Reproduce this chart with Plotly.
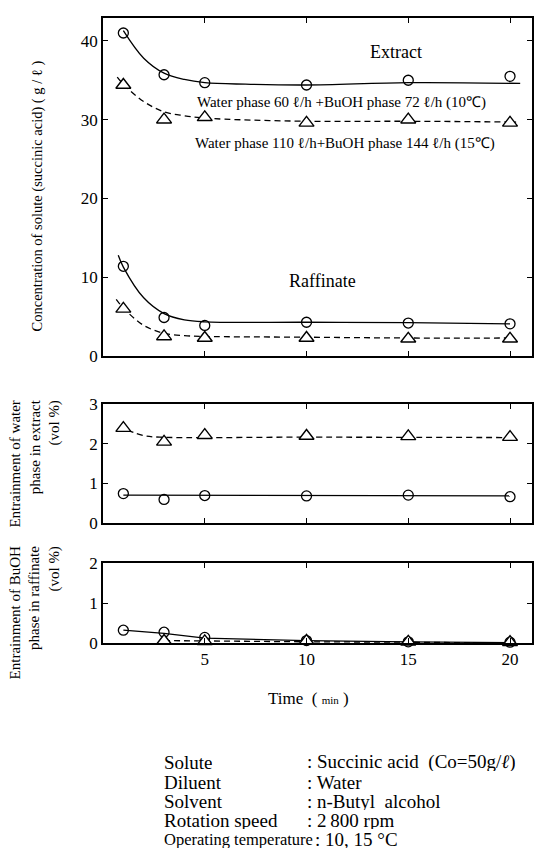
import plotly.graph_objects as go

# ---------------- data ----------------
time = [1, 3, 5, 10, 15, 20]

ext_10C = [41.0, 35.7, 34.7, 34.4, 35.0, 35.5]
ext_15C = [34.4, 30.0, 30.3, 29.6, 30.0, 29.6]
raf_10C = [11.4, 4.9, 3.9, 4.3, 4.2, 4.1]
raf_15C = [6.0, 2.5, 2.3, 2.3, 2.2, 2.2]

# fitted curves
ext_10C_curve_t = [1.0, 2, 3, 4, 5, 7, 10, 15, 20.5]
ext_10C_curve_v = [41.3, 37.8, 35.9, 35.1, 34.7, 34.5, 34.4, 34.7, 34.6]
ext_15C_curve_t = [0.7, 1, 2, 3, 4, 5, 10, 15, 20.3]
ext_15C_curve_v = [35.4, 34.5, 32.3, 31.0, 30.5, 30.2, 29.8, 29.8, 29.7]
raf_10C_curve_t = [0.75, 1, 2, 3, 4, 5, 10, 15, 20]
raf_10C_curve_v = [12.8, 11.3, 7.4, 5.4, 4.6, 4.35, 4.3, 4.25, 4.1]
raf_15C_curve_t = [0.65, 1, 2, 3, 4, 5, 10, 15, 20]
raf_15C_curve_v = [7.2, 6.1, 3.9, 2.9, 2.6, 2.5, 2.4, 2.3, 2.3]

water_10C = [0.74, 0.59, 0.69, 0.68, 0.70, 0.66]
water_15C = [2.40, 2.05, 2.22, 2.20, 2.19, 2.17]
water_10C_line_t = [1, 20]
water_10C_line_v = [0.70, 0.68]
water_15C_line_t = [1.2, 2, 2.8, 10, 20]
water_15C_line_v = [2.35, 2.21, 2.17, 2.17, 2.16]

buoh_10C = [0.32, 0.27, 0.14, 0.06, 0.03, 0.02]
buoh_15C_t = [3, 5, 10, 15, 20]
buoh_15C = [0.05, 0.04, 0.05, 0.03, 0.02]
buoh_10C_line_v = [0.32, 0.24, 0.12, 0.06, 0.03, 0.01]
buoh_15C_line_v = [0.06, 0.05, 0.03, 0.02, 0.0]

x_ticks = [5, 10, 15, 20]
y1_ticks = [0, 10, 20, 30, 40]
y2_ticks = [0, 1, 2, 3]
y3_ticks = [0, 1, 2]

cond_labels = ["Solute", "Diluent", "Solvent", "Rotation speed", "Operating temperature"]
cond_values = [": Succinic acid\u00a0\u00a0(Co=50g/<i>ℓ</i>)", ": Water", ": n-Butyl\u00a0 alcohol",
               ": 2\u2009800 rpm", ": 10, 15 °C"]

# ---------------- figure ----------------
W, H = 557, 853
ML, MT = 103, 9
MR = W - 532
MB = H - 643
PW = W - ML - MR
PH = H - MT - MB
FONT = "Liberation Serif"


def px(xp):
    return (xp - ML) / PW


def py(yp):
    return (H - MB - yp) / PH


fig = go.Figure()

LW = 1.3
solid = dict(color="black", width=LW)
dashed = dict(color="black", width=LW, dash="6px,4px")
circle = dict(symbol="circle-open", size=10, color="black", line=dict(width=1.3))
tri = dict(symbol="triangle-up", size=13, color="white", line=dict(width=1.4, color="black"))


def add_line(t, v, line, ya, shape="linear"):
    fig.add_trace(go.Scatter(x=t, y=v, mode="lines", line=dict(**line, shape=shape),
                             xaxis="x" if ya == "y" else "x" + ya[1:], yaxis=ya,
                             showlegend=False, hoverinfo="skip", cliponaxis=False))


def add_marks(t, v, marker, ya):
    fig.add_trace(go.Scatter(x=t, y=v, mode="markers", marker=marker,
                             xaxis="x" if ya == "y" else "x" + ya[1:], yaxis=ya,
                             showlegend=False, cliponaxis=False))


# top panel
add_line(ext_10C_curve_t, ext_10C_curve_v, solid, "y", "spline")
add_line(ext_15C_curve_t, ext_15C_curve_v, dashed, "y", "spline")
add_line(raf_10C_curve_t, raf_10C_curve_v, solid, "y", "spline")
add_line(raf_15C_curve_t, raf_15C_curve_v, dashed, "y", "spline")
add_marks(time, ext_10C, circle, "y")
add_marks(time, ext_15C, tri, "y")
add_marks(time, raf_10C, circle, "y")
add_marks(time, raf_15C, tri, "y")

# middle panel
add_line(water_10C_line_t, water_10C_line_v, solid, "y2")
add_line(water_15C_line_t, water_15C_line_v, dashed, "y2", "spline")
add_marks(time, water_10C, circle, "y2")
add_marks(time, water_15C, tri, "y2")

# bottom panel
add_line(time, buoh_10C_line_v, solid, "y3")
add_line(buoh_15C_t, buoh_15C_line_v, dashed, "y3")
add_marks(time, buoh_10C, circle, "y3")
add_marks(buoh_15C_t, buoh_15C, tri, "y3")

axis_common = dict(showline=True, linecolor="black", linewidth=1.5, mirror="ticks",
                   ticks="inside", ticklen=5, tickwidth=1.3, tickcolor="black",
                   showgrid=False, zeroline=False,
                   tickfont=dict(family=FONT, size=17, color="black"))

d1 = [py(352), 1.0]
d2 = [py(521), py(401)]
d3 = [0.0, py(562)]
xr = [0, 21.08]

fig.update_layout(
    width=W, height=H,
    margin=dict(l=ML, r=MR, t=MT, b=MB),
    paper_bgcolor="white", plot_bgcolor="white",
    showlegend=False,
    xaxis=dict(range=xr, tickvals=x_ticks, showticklabels=False, anchor="y", **axis_common),
    yaxis=dict(range=[0, 42.9], tickvals=y1_ticks, domain=d1, anchor="x", **axis_common),
    xaxis2=dict(range=xr, tickvals=x_ticks, showticklabels=False, anchor="y2", matches="x", **axis_common),
    yaxis2=dict(range=[0, 3], tickvals=y2_ticks, domain=d2, anchor="x2", **axis_common),
    xaxis3=dict(range=xr, tickvals=x_ticks, showticklabels=True, anchor="y3", matches="x", **axis_common),
    yaxis3=dict(range=[0, 2], tickvals=y3_ticks, domain=d3, anchor="x3", **axis_common),
)

ann = []
tf = dict(family=FONT, size=15, color="black")


def A(**kw):
    d = dict(showarrow=False, xanchor="center", yanchor="middle")
    d.update(kw)
    ann.append(d)


# in-plot labels
A(x=14.4, y=38.6, xref="x", yref="y", text="Extract", font=dict(family=FONT, size=18, color="black"))
A(x=10.8, y=9.5, xref="x", yref="y", text="Raffinate", font=dict(family=FONT, size=18, color="black"))
A(x=4.5, y=32.2, xref="x", yref="y", xanchor="left", text="Water phase 60 ℓ/h +BuOH phase 72 ℓ/h (10℃)", font=tf)
A(x=4.4, y=27.0, xref="x", yref="y", xanchor="left", text="Water phase 110 ℓ/h+BuOH phase 144 ℓ/h (15℃)", font=tf)

# y-axis titles
A(x=px(37), y=py(190), xref="paper", yref="paper", textangle=-90,
  text="Concentration of solute (succinic acid) ( g / ℓ )", font=dict(family=FONT, size=14.5, color="black"))
A(x=px(35), y=py(461), xref="paper", yref="paper", textangle=-90, align="right",
  text="Entrainment of water<br>phase in extract<br>(vol %)", font=tf)
A(x=px(35), y=py(612), xref="paper", yref="paper", textangle=-90, align="right",
  text="Entrainment of BuOH<br>phase in raffinate<br>(vol %)", font=tf)

# x title
A(x=px(308), y=py(699), xref="paper", yref="paper",
  text="Time  ( <span style='font-size:11px'>min</span> )",
  font=dict(family=FONT, size=17, color="black"))

# conditions block
cfont = dict(family=FONT, size=19, color="black")
lfont_last = dict(family=FONT, size=16.5, color="black")
line_y = [764, 783.5, 803, 822.5, 842]
val_x = [306, 306, 306, 306, 314]
for i in range(5):
    A(x=px(163), y=py(line_y[i]), xref="paper", yref="paper", xanchor="left",
      text=cond_labels[i], font=(lfont_last if i == 4 else cfont), height=18, borderpad=0)
    A(x=px(val_x[i]), y=py(line_y[i]), xref="paper", yref="paper", xanchor="left",
      text=cond_values[i], font=cfont, height=18, borderpad=0)

fig.update_layout(annotations=ann)

fig.write_html("out.html", config={"displayModeBar": False},
               post_script="document.body.style.margin='0px';")
